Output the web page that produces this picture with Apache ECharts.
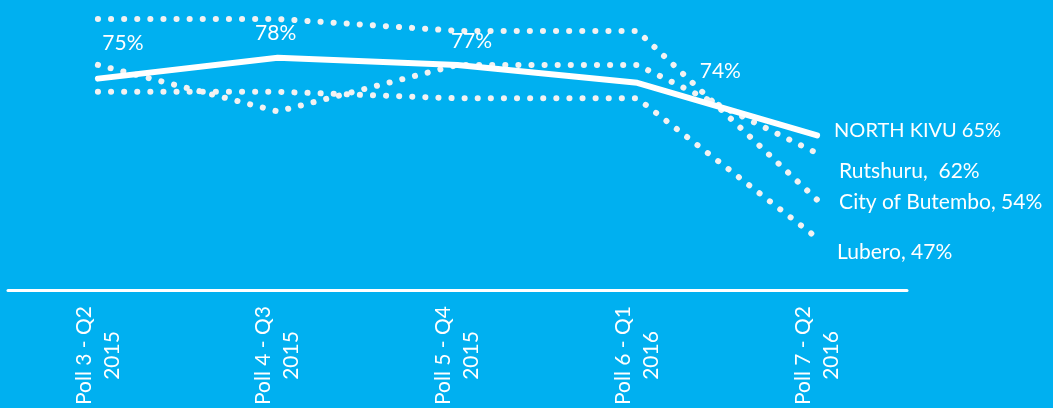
<!DOCTYPE html>
<html>
<head>
<meta charset="utf-8">
<script src="https://cdn.jsdelivr.net/npm/echarts@6/dist/echarts.min.js"></script>
<style>
  html, body { margin: 0; padding: 0; background: #00b0f0; }
  #chart { width: 1053px; height: 408px; }
</style>
</head>
<body>
<div id="chart"></div>
<script>
const categories = [
  'Poll 3 - Q2\n2015',
  'Poll 4 - Q3\n2015',
  'Poll 5 - Q4\n2015',
  'Poll 6 - Q1\n2016',
  'Poll 7 - Q2\n2016',
]
const northKivu = [74.5, 78, 76.8, 73.8, 65]
const rutshuru = [76.8, 69, 76.8, 76.8, 62]
const butembo = [84.5, 84.5, 82.5, 82.5, 54.2]
const lubero = [72.3, 72.3, 71.2, 71.2, 47.8]
const endLabels = ['NORTH KIVU 65%', 'Rutshuru,  62%', 'City of Butembo, 54%', 'Lubero, 47%']

const chartDom = document.getElementById('chart')
const myChart = echarts.init(chartDom)

const font = 'Lato, "Open Sans", sans-serif'
const dotColor = '#f2f2f2'

// hand-placed value labels, like the slide
const nkLabelOffsets = [[25, -35], [-2, -25], [14, -24], [83, -12]]

const nkData = northKivu.map((v, i) => {
  if (i >= nkLabelOffsets.length) return v
  return {
    value: v,
    label: {
      show: true,
      position: 'inside',
      align: 'center',
      verticalAlign: 'middle',
      offset: nkLabelOffsets[i],
      formatter: () => Math.round(v) + '%',
      color: '#ffffff',
      fontFamily: font,
      fontSize: 21,
    },
  }
})

const dotted = (name, data, label, offset) => ({
  name,
  type: 'line',
  data,
  symbol: 'circle',
  symbolSize: 0,
  silent: true,
  lineStyle: {
    color: dotColor,
    width: 6,
    type: [0.1, 13],
    cap: 'round',
  },
  endLabel: {
    show: true,
    formatter: label,
    distance: 0,
    offset,
    color: '#ffffff',
    fontFamily: font,
    fontSize: 21,
  },
  z: 2,
})

const option = {
  backgroundColor: '#00b0f0',
  animation: false,
  grid: {
    left: 8,
    right: 146,
    top: 10,
    bottom: 116,
  },
  xAxis: {
    type: 'category',
    data: categories,
    boundaryGap: true,
    axisLine: {
      show: true,
      lineStyle: { color: '#ffffff', width: 3 },
    },
    axisTick: { show: false },
    axisLabel: {
      rotate: 90,
      interval: 0,
      margin: 65,
      align: 'center',
      verticalAlign: 'middle',
      color: '#ffffff',
      fontFamily: font,
      fontSize: 21,
      lineHeight: 28,
    },
  },
  yAxis: {
    type: 'value',
    min: 39,
    max: 86,
    show: false,
    splitLine: { show: false },
  },
  series: [
    dotted('Rutshuru', rutshuru, endLabels[1], [22, 18]),
    dotted('City of Butembo', butembo, endLabels[2], [22, 2]),
    dotted('Lubero', lubero, endLabels[3], [20, 14]),
    {
      name: 'North Kivu',
      type: 'line',
      data: nkData,
      symbol: 'circle',
      symbolSize: 0,
      silent: true,
      lineStyle: { color: '#ffffff', width: 6, cap: 'round', join: 'round' },
      endLabel: {
        show: true,
        formatter: endLabels[0],
        distance: 0,
        offset: [17, -5],
        color: '#ffffff',
        fontFamily: font,
        fontSize: 20,
      },
      z: 3,
    },
  ],
}

myChart.setOption(option)

window.addEventListener('resize', () => {
  myChart.resize()
})
</script>
</body>
</html>
